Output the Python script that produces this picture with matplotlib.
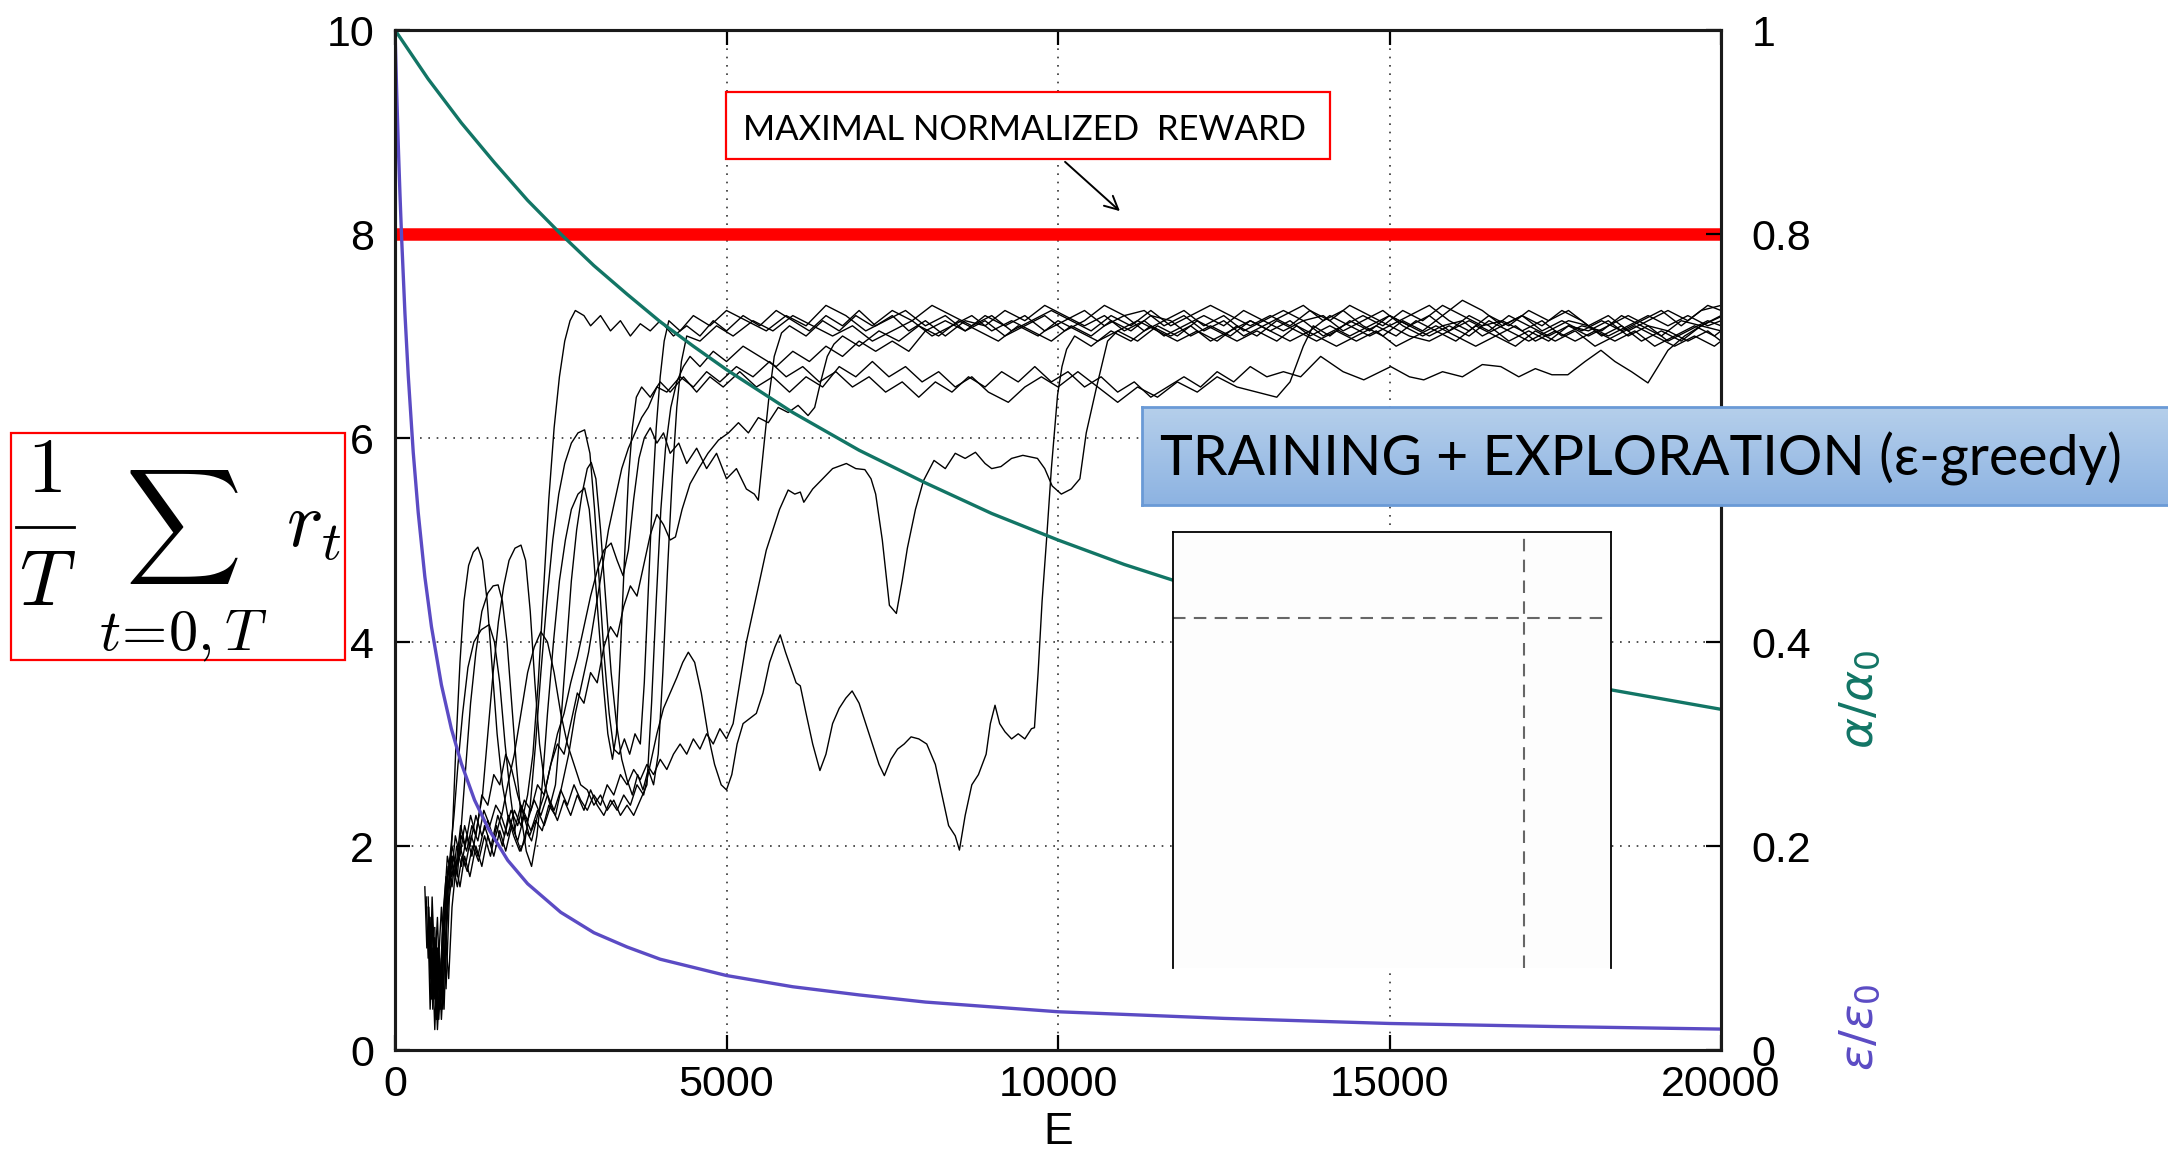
import matplotlib
matplotlib.use("Agg")
import matplotlib.pyplot as plt
import numpy as np
from matplotlib.lines import Line2D
from matplotlib.patches import FancyArrowPatch, Rectangle

W, H = 2168, 1151

TEAL = "#127565"
PURPLE = "#5b4bc4"

# axes ticks
X_TICKS = [0, 5000, 10000, 15000, 20000]
Y_TICKS = [0, 2, 4, 6, 8, 10]
Y2_TICKS = [0, 0.2, 0.4, 0.6, 0.8, 1.0]
Y2_LABELS = ["0", "0.2", "0.4", "", "0.8", "1"]   # 0.6 sits under the banner

MAX_REWARD = 8.0

# learning rate schedule alpha/alpha0 vs episode
ALPHA_E = [0, 500, 1000, 1500, 2000, 2500, 3000, 3500, 4000, 4500, 5000, 6000, 7000,
           8000, 9000, 10000, 11000, 12000, 14000, 16000, 18000, 20000]
ALPHA_RATIO = [1.0, 0.952, 0.909, 0.87, 0.833, 0.8, 0.769, 0.741, 0.714, 0.69, 0.667,
               0.625, 0.588, 0.556, 0.526, 0.5, 0.476, 0.455, 0.417, 0.385, 0.357, 0.334]

# exploration schedule eps/eps0 vs episode
EPS_E = [0, 25, 50, 75, 100, 150, 200, 275, 350, 450, 550, 700, 850, 1000, 1200, 1400,
         1700, 2000, 2500, 3000, 3500, 4000, 5000, 6000, 7000, 8000, 10000, 12500,
         15000, 17500, 20000]
EPS_RATIO = [1.0, 0.94, 0.886, 0.839, 0.796, 0.722, 0.661, 0.586, 0.527, 0.464, 0.415,
             0.358, 0.315, 0.281, 0.245, 0.218, 0.186, 0.163, 0.135, 0.115, 0.101, 0.089,
             0.073, 0.062, 0.054, 0.047, 0.0375, 0.031, 0.026, 0.023, 0.0205]

# normalized reward of ten training runs, (episode, reward)
RUN_A = [(470, 1.5), (500, 0.9), (530, 1.3), (560, 0.5), (590, 1.1), (630, 0.3), (660, 1.0),
         (700, 0.6), (740, 1.4), (790, 1.9), (850, 1.7), (910, 2.1), (980, 1.9), (1050, 2.2),
         (1130, 2.0), (1220, 2.3), (1310, 2.1), (1400, 2.25), (1500, 2.05), (1600, 2.3),
         (1700, 2.1), (1800, 2.35), (1900, 2.2), (2000, 2.5), (2080, 2.9), (2160, 3.6),
         (2240, 4.5), (2320, 5.4), (2400, 6.1), (2480, 6.6), (2560, 6.95), (2640, 7.15),
         (2720, 7.25), (2850, 7.2), (2950, 7.1), (3100, 7.2), (3250, 7.05), (3400, 7.15),
         (3550, 7.0), (3700, 7.12), (3850, 7.05), (4000, 7.15), (4200, 7.0), (4400, 7.1),
         (4600, 7.0), (4800, 7.15), (5000, 7.05), (5250, 7.2), (5500, 7.1), (5750, 7.25),
         (6000, 7.15), (6250, 7.05), (6500, 7.2), (6750, 7.1), (7000, 7.25), (7250, 7.1),
         (7500, 7.2), (7750, 7.05), (8000, 7.15), (8300, 7.0), (8600, 7.15), (8900, 7.1),
         (9200, 7.25), (9500, 7.15), (9800, 7.3), (10100, 7.2), (10400, 7.1), (10700, 7.2),
         (11000, 7.05), (11300, 7.15), (11600, 7.0), (11900, 7.1), (12200, 7.2), (12500, 7.1),
         (12800, 7.25), (13100, 7.15), (13400, 7.05), (13700, 7.15), (14000, 7.0), (14300, 7.1),
         (14600, 7.2), (14900, 7.1), (15200, 7.25), (15500, 7.15), (15800, 7.3), (16100, 7.2),
         (16400, 7.1), (16700, 7.15), (17000, 7.05), (17300, 7.15), (17600, 7.0), (17900, 7.1),
         (18200, 7.05), (18500, 7.2), (18800, 7.1), (19100, 7.0), (19400, 7.15), (19700, 7.1),
         (20000, 7.2)]

RUN_B = [(500, 1.2), (530, 0.4), (560, 1.0), (600, 0.2), (640, 0.9), (680, 0.4), (720, 1.3),
         (770, 1.7), (820, 1.6), (870, 2.2), (920, 3.0), (980, 3.8), (1040, 4.4), (1110, 4.75),
         (1180, 4.88), (1250, 4.93), (1320, 4.8), (1390, 4.4), (1460, 3.8), (1540, 3.1),
         (1620, 2.6), (1700, 2.3), (1790, 2.1), (1880, 1.95), (1960, 2.05), (2040, 2.4),
         (2120, 3.0), (2200, 3.7), (2290, 4.4), (2380, 5.0), (2470, 5.45), (2560, 5.75),
         (2660, 5.95), (2760, 6.05), (2860, 6.08), (2940, 5.85), (3010, 5.3), (3080, 4.6),
         (3150, 3.9), (3230, 3.3), (3300, 2.95), (3380, 2.9), (3460, 3.05), (3540, 2.9),
         (3620, 3.1), (3700, 3.0), (3760, 3.6), (3820, 4.5), (3880, 5.4), (3940, 6.1),
         (4000, 6.6), (4060, 6.95), (4130, 7.15), (4300, 7.05), (4500, 7.2), (4750, 7.1),
         (5000, 7.25), (5300, 7.15), (5600, 7.05), (5900, 7.2), (6200, 7.1), (6500, 7.3),
         (6800, 7.2), (7100, 7.05), (7400, 7.15), (7700, 7.25), (8000, 7.1), (8300, 7.2),
         (8600, 7.05), (8900, 7.15), (9200, 7.0), (9500, 7.1), (9800, 7.2), (10100, 7.05),
         (10400, 7.15), (10700, 7.3), (11000, 7.2), (11300, 7.25), (11600, 7.1), (11900, 7.2),
         (12200, 7.05), (12500, 7.15), (12800, 7.0), (13100, 7.1), (13400, 7.2), (13700, 7.3),
         (14000, 7.15), (14300, 7.25), (14600, 7.1), (14900, 7.0), (15200, 7.15), (15500, 7.05),
         (15800, 7.2), (16100, 7.35), (16400, 7.25), (16700, 7.1), (17000, 7.2), (17300, 7.1),
         (17600, 7.25), (17900, 7.15), (18200, 7.0), (18500, 7.1), (18800, 6.95), (19100, 7.05),
         (19400, 6.95), (19700, 7.1), (20000, 7.05)]

RUN_C = [(450, 1.6), (480, 1.0), (510, 1.4), (550, 0.6), (590, 1.1), (630, 0.3), (670, 0.9),
         (710, 0.5), (750, 1.3), (800, 1.8), (860, 1.6), (930, 2.0), (1000, 1.8), (1080, 2.1),
         (1160, 1.9), (1240, 2.2), (1320, 2.5), (1400, 3.1), (1480, 3.7), (1560, 4.2),
         (1640, 4.55), (1720, 4.8), (1810, 4.92), (1900, 4.95), (1970, 4.8), (2040, 4.3),
         (2110, 3.6), (2180, 3.0), (2260, 2.6), (2340, 2.4), (2420, 2.6), (2500, 3.2),
         (2580, 3.9), (2660, 4.6), (2740, 5.1), (2820, 5.45), (2900, 5.7), (2960, 5.76),
         (3030, 5.6), (3100, 5.1), (3180, 4.4), (3260, 3.7), (3340, 3.2), (3420, 2.85),
         (3500, 2.65), (3580, 2.5), (3660, 2.7), (3740, 2.55), (3820, 2.75), (3900, 2.6),
         (3970, 2.9), (4040, 3.7), (4110, 4.7), (4180, 5.6), (4250, 6.3), (4320, 6.75),
         (4400, 7.0), (4600, 6.95), (4850, 7.1), (5100, 7.0), (5400, 7.15), (5700, 7.05),
         (6000, 7.2), (6300, 7.1), (6600, 7.0), (6900, 7.1), (7200, 6.95), (7500, 7.05),
         (7800, 7.15), (8100, 7.0), (8400, 7.1), (8700, 7.2), (9000, 7.05), (9300, 7.15),
         (9600, 7.05), (9900, 6.95), (10200, 7.1), (10500, 7.0), (10800, 7.15), (11100, 7.05),
         (11400, 7.2), (11700, 7.15), (12000, 7.0), (12300, 7.1), (12600, 7.0), (12900, 7.15),
         (13200, 7.05), (13500, 6.95), (13800, 7.05), (14100, 7.2), (14400, 7.1), (14700, 7.0),
         (15000, 7.1), (15300, 7.0), (15600, 6.95), (15900, 7.05), (16200, 7.15), (16500, 7.05),
         (16800, 7.2), (17100, 7.1), (17400, 7.0), (17700, 7.1), (18000, 7.05), (18300, 7.15),
         (18600, 7.0), (18900, 7.1), (19200, 7.05), (19500, 6.95), (19800, 7.05), (20000, 6.95)]

RUN_D = [(560, 1.3), (590, 0.6), (620, 1.1), (660, 0.3), (700, 0.8), (740, 0.4), (780, 1.2),
         (830, 1.7), (880, 1.9), (940, 1.7), (1000, 2.2), (1070, 2.8), (1140, 3.4), (1220, 3.9),
         (1310, 4.3), (1400, 4.48), (1480, 4.55), (1555, 4.56), (1620, 4.4), (1690, 4.0),
         (1760, 3.4), (1830, 2.8), (1900, 2.3), (1980, 1.95), (2060, 1.8), (2140, 2.1),
         (2220, 2.6), (2300, 3.3), (2390, 4.0), (2480, 4.6), (2570, 5.0), (2660, 5.3),
         (2760, 5.45), (2860, 5.51), (2930, 5.3), (3000, 4.8), (3070, 4.2), (3140, 3.6),
         (3210, 3.1), (3280, 2.85), (3340, 3.1), (3400, 3.9), (3460, 4.8), (3520, 5.6),
         (3580, 6.1), (3640, 6.4), (3720, 6.5), (3850, 6.4), (4000, 6.55), (4150, 6.45),
         (4350, 6.6), (4550, 6.45), (4750, 6.6), (4950, 6.5), (5200, 6.65), (5450, 6.5),
         (5700, 6.6), (5950, 6.45), (6200, 6.6), (6450, 6.5), (6700, 6.7), (6950, 6.6),
         (7200, 6.75), (7450, 6.6), (7700, 6.7), (7950, 6.55), (8200, 6.65), (8450, 6.5),
         (8700, 6.6), (8950, 6.45), (9250, 6.35), (9500, 6.5), (9750, 6.6), (10000, 6.5),
         (10300, 6.65), (10600, 6.5), (10900, 6.35), (11200, 6.5), (11500, 6.4), (11800, 6.55),
         (12100, 6.45), (12400, 6.6), (12700, 6.5), (13000, 6.45), (13300, 6.4), (13500, 6.55),
         (13700, 6.9), (13850, 7.1), (14100, 7.0), (14400, 7.15), (14700, 7.05), (15000, 7.2),
         (15300, 7.1), (15600, 7.0), (15900, 7.1), (16200, 7.0), (16500, 7.15), (16800, 7.05),
         (17100, 6.95), (17400, 7.05), (17700, 7.15), (18000, 7.1), (18300, 7.0), (18600, 7.1),
         (18900, 7.2), (19200, 7.1), (19500, 7.2), (19800, 7.1), (20000, 7.15)]

RUN_E = [(500, 1.4), (530, 0.7), (560, 1.5), (600, 0.8), (640, 1.3), (680, 0.5), (720, 1.0),
         (770, 1.6), (830, 1.9), (890, 2.3), (950, 2.8), (1020, 3.3), (1100, 3.75), (1190, 4.0),
         (1300, 4.12), (1420, 4.17), (1500, 4.0), (1580, 3.6), (1660, 3.0), (1740, 2.5),
         (1820, 2.1), (1900, 1.95), (1980, 2.15), (2060, 2.05), (2150, 2.3), (2250, 2.5),
         (2350, 2.8), (2450, 3.1), (2550, 3.3), (2650, 3.6), (2750, 3.85), (2850, 4.15),
         (2950, 4.45), (3050, 4.7), (3150, 4.9), (3260, 4.97), (3350, 4.8), (3440, 4.65),
         (3520, 4.9), (3600, 5.4), (3680, 5.8), (3760, 6.0), (3850, 6.1), (3950, 5.95),
         (4050, 6.05), (4150, 5.85), (4280, 5.95), (4400, 5.75), (4550, 5.9), (4700, 5.7),
         (4850, 5.85), (5000, 5.6), (5150, 5.7), (5300, 5.5), (5420, 5.45), (5480, 5.39),
         (5560, 5.9), (5640, 6.4), (5720, 6.8), (5830, 7.03), (5950, 7.1), (6200, 7.0),
         (6450, 7.15), (6700, 7.05), (6950, 7.2), (7200, 7.1), (7500, 7.25), (7800, 7.15),
         (8100, 7.3), (8400, 7.2), (8700, 7.1), (9000, 7.2), (9300, 7.05), (9600, 7.15),
         (9900, 7.25), (10200, 7.15), (10500, 7.05), (10800, 7.2), (11100, 7.1), (11400, 7.25),
         (11700, 7.1), (12000, 7.2), (12300, 7.3), (12600, 7.2), (12900, 7.1), (13200, 7.2),
         (13500, 7.1), (13800, 7.25), (14100, 7.15), (14400, 7.3), (14700, 7.2), (15000, 7.1),
         (15300, 7.2), (15600, 7.3), (15900, 7.15), (16200, 7.05), (16500, 7.2), (16800, 7.1),
         (17100, 7.25), (17400, 7.15), (17700, 7.25), (18000, 7.1), (18300, 7.2), (18600, 7.05),
         (18900, 7.15), (19200, 7.25), (19500, 7.15), (19800, 7.3), (20000, 7.25)]

RUN_F = [(600, 1.2), (630, 0.5), (660, 0.9), (700, 0.3), (740, 0.8), (790, 1.5), (850, 1.9),
         (910, 1.7), (980, 2.0), (1060, 1.8), (1150, 2.1), (1250, 1.9), (1350, 2.2), (1450, 2.0),
         (1550, 2.3), (1650, 2.1), (1750, 2.35), (1850, 2.2), (1950, 2.45), (2050, 2.35),
         (2150, 2.6), (2250, 2.5), (2350, 2.8), (2450, 3.0), (2550, 2.9), (2650, 3.2),
         (2750, 3.5), (2850, 3.4), (2950, 3.7), (3050, 3.6), (3150, 3.95), (3250, 4.15),
         (3350, 4.05), (3450, 4.35), (3550, 4.55), (3650, 4.45), (3750, 4.75), (3850, 5.05),
         (3950, 5.25), (4050, 5.15), (4150, 5.0), (4230, 5.03), (4330, 5.3), (4450, 5.55),
         (4580, 5.7), (4720, 5.85), (4880, 5.98), (5030, 6.05), (5180, 6.15), (5330, 6.05),
         (5480, 6.2), (5630, 6.15), (5780, 6.3), (5930, 6.25), (6080, 6.32), (6230, 6.22),
         (6330, 6.3), (6420, 6.55), (6520, 6.8), (6620, 6.92), (6750, 7.0), (7000, 6.9),
         (7300, 7.05), (7600, 6.95), (7900, 7.1), (8200, 7.0), (8500, 7.15), (8800, 7.05),
         (9100, 6.95), (9400, 7.1), (9700, 7.0), (10000, 7.15), (10300, 7.05), (10600, 6.95),
         (10900, 7.05), (11200, 7.15), (11500, 7.05), (11800, 6.95), (12100, 7.05), (12400, 6.95),
         (12700, 7.1), (13000, 7.0), (13300, 7.15), (13600, 7.05), (13900, 6.95), (14200, 7.05),
         (14500, 6.95), (14800, 7.05), (15100, 6.9), (15400, 7.0), (15700, 7.1), (16000, 7.0),
         (16300, 6.9), (16600, 7.0), (16900, 6.9), (17200, 7.05), (17500, 6.95), (17800, 7.05),
         (18100, 6.9), (18400, 7.0), (18700, 7.1), (19000, 7.0), (19300, 6.9), (19600, 7.0),
         (19900, 6.9), (20000, 6.95)]

RUN_G = [(540, 1.1), (570, 0.4), (600, 0.9), (640, 0.2), (680, 0.7), (720, 1.2), (770, 0.6),
         (820, 1.5), (880, 1.8), (940, 1.6), (1010, 1.9), (1090, 1.75), (1170, 2.0), (1260, 1.85),
         (1350, 2.1), (1440, 1.9), (1530, 2.2), (1620, 2.0), (1710, 2.3), (1800, 2.15),
         (1900, 2.4), (2000, 2.25), (2100, 2.45), (2200, 2.3), (2300, 2.5), (2400, 2.35),
         (2500, 2.55), (2600, 2.4), (2700, 2.6), (2800, 2.45), (2900, 2.35), (3000, 2.5),
         (3100, 2.4), (3200, 2.6), (3300, 2.5), (3400, 2.7), (3500, 2.6), (3600, 2.75),
         (3700, 2.65), (3800, 2.8), (3900, 2.7), (4000, 2.85), (4100, 2.75), (4200, 2.9),
         (4300, 3.0), (4400, 2.9), (4500, 3.05), (4600, 2.95), (4700, 3.1), (4800, 3.0),
         (4900, 3.15), (5000, 3.05), (5100, 3.2), (5200, 3.6), (5300, 4.0), (5400, 4.3),
         (5500, 4.6), (5600, 4.9), (5700, 5.1), (5800, 5.3), (5930, 5.49), (6030, 5.45),
         (6113, 5.47), (6166, 5.37), (6300, 5.5), (6450, 5.6), (6600, 5.7), (6808, 5.75),
         (6950, 5.7), (7087, 5.69), (7180, 5.6), (7250, 5.45), (7350, 5.0), (7457, 4.36),
         (7562, 4.28), (7650, 4.6), (7728, 4.92), (7850, 5.3), (7970, 5.58), (8130, 5.78),
         (8300, 5.7), (8450, 5.85), (8600, 5.8), (8755, 5.86), (8900, 5.75), (9000, 5.7),
         (9140, 5.72), (9300, 5.8), (9470, 5.83), (9690, 5.8), (9800, 5.7), (9912, 5.53),
         (10050, 5.45), (10200, 5.5), (10330, 5.6), (10426, 6.05), (10582, 6.5), (10748, 6.95),
         (10900, 7.05), (11200, 6.95), (11500, 7.1), (11800, 7.0), (12100, 7.15), (12400, 7.05),
         (12700, 6.95), (13000, 7.05), (13300, 6.95), (13600, 7.1), (13900, 7.0), (14200, 6.9),
         (14500, 7.0), (14800, 7.1), (15100, 7.0), (15400, 7.15), (15700, 7.05), (16000, 6.95),
         (16300, 7.1), (16600, 7.0), (16900, 7.1), (17200, 6.95), (17500, 7.05), (17800, 6.95),
         (18100, 7.05), (18400, 6.95), (18700, 7.05), (19000, 6.9), (19300, 7.0), (19600, 7.1),
         (19900, 7.0), (20000, 7.05)]

RUN_H = [(620, 1.0), (650, 0.3), (680, 0.8), (720, 0.4), (760, 1.1), (810, 0.7), (860, 1.4),
         (920, 1.8), (980, 1.6), (1050, 1.9), (1130, 1.7), (1220, 2.0), (1310, 1.8), (1400, 2.1),
         (1490, 1.9), (1580, 2.15), (1670, 1.95), (1760, 2.2), (1850, 2.05), (1950, 2.3),
         (2050, 2.15), (2150, 2.35), (2250, 2.2), (2350, 2.4), (2450, 2.25), (2550, 2.45),
         (2650, 2.3), (2750, 2.5), (2850, 2.35), (2950, 2.55), (3050, 2.4), (3150, 2.3),
         (3250, 2.45), (3350, 2.35), (3450, 2.5), (3550, 2.4), (3650, 2.6), (3750, 2.5),
         (3850, 2.8), (3950, 3.1), (4050, 3.35), (4150, 3.5), (4250, 3.65), (4340, 3.8),
         (4424, 3.9), (4520, 3.8), (4620, 3.5), (4720, 3.1), (4820, 2.8), (4920, 2.6),
         (5000, 2.55), (5080, 2.7), (5160, 3.0), (5250, 3.2), (5350, 3.25), (5450, 3.3),
         (5550, 3.5), (5650, 3.8), (5730, 3.95), (5810, 4.07), (5890, 3.9), (5970, 3.75),
         (6050, 3.6), (6113, 3.57), (6200, 3.3), (6300, 3.0), (6409, 2.74), (6500, 2.9),
         (6600, 3.2), (6700, 3.35), (6800, 3.45), (6895, 3.52), (7000, 3.4), (7100, 3.2),
         (7200, 3.0), (7300, 2.8), (7381, 2.69), (7480, 2.85), (7580, 2.95), (7680, 3.0),
         (7784, 3.07), (7900, 3.05), (8020, 3.0), (8150, 2.8), (8250, 2.5), (8350, 2.2),
         (8450, 2.1), (8513, 1.96), (8600, 2.3), (8700, 2.6), (8800, 2.7), (8916, 2.9),
         (8980, 3.2), (9050, 3.38), (9120, 3.2), (9200, 3.12), (9300, 3.05), (9400, 3.1),
         (9500, 3.05), (9600, 3.15), (9645, 3.16), (9700, 3.7), (9760, 4.4), (9827, 5.0),
         (9900, 5.7), (9993, 6.42), (10060, 6.7), (10130, 6.87), (10250, 7.0), (10500, 6.9),
         (10800, 7.05), (11100, 6.95), (11400, 7.1), (11700, 7.0), (12000, 7.1), (12300, 6.95),
         (12600, 7.05), (12900, 7.15), (13200, 7.05), (13500, 7.15), (13800, 7.0), (14100, 7.1),
         (14400, 7.0), (14700, 7.1), (15000, 7.2), (15300, 7.1), (15600, 7.2), (15900, 7.05),
         (16200, 7.2), (16500, 7.1), (16800, 6.95), (17100, 7.05), (17400, 6.95), (17700, 7.1),
         (18000, 7.0), (18300, 7.1), (18600, 7.2), (18900, 7.1), (19200, 6.95), (19500, 7.05),
         (19800, 7.15), (20000, 7.1)]

RUN_I = [(500, 1.5), (530, 0.8), (560, 1.3), (600, 0.5), (640, 1.0), (690, 0.4), (740, 1.1),
         (800, 1.7), (860, 2.0), (920, 1.8), (990, 2.2), (1060, 2.0), (1140, 2.3), (1220, 2.1),
         (1310, 2.5), (1400, 2.4), (1490, 2.7), (1580, 2.6), (1670, 2.9), (1760, 2.75),
         (1850, 2.5), (1940, 2.3), (2030, 2.1), (2120, 2.25), (2220, 2.15), (2320, 2.4),
         (2420, 2.3), (2520, 2.6), (2620, 2.9), (2720, 3.3), (2820, 3.6), (2920, 3.9),
         (3020, 4.3), (3120, 4.7), (3220, 5.1), (3320, 5.4), (3420, 5.7), (3520, 5.9),
         (3620, 6.05), (3720, 6.2), (3820, 6.3), (3950, 6.5), (4100, 6.45), (4300, 6.6),
         (4500, 6.5), (4700, 6.65), (4900, 6.55), (5150, 6.7), (5400, 6.6), (5650, 6.75),
         (5900, 6.6), (6150, 6.7), (6400, 6.55), (6650, 6.65), (6900, 6.5), (7150, 6.6),
         (7400, 6.45), (7650, 6.55), (7900, 6.4), (8150, 6.55), (8400, 6.45), (8650, 6.6),
         (8900, 6.5), (9150, 6.65), (9400, 6.55), (9650, 6.7), (9900, 6.55), (10150, 6.65),
         (10400, 6.5), (10650, 6.6), (10900, 6.45), (11150, 6.55), (11400, 6.4), (11650, 6.5),
         (11900, 6.6), (12150, 6.5), (12400, 6.65), (12650, 6.55), (12900, 6.7), (13150, 6.6),
         (13400, 6.65), (13660, 6.6), (13962, 6.8), (14300, 6.65), (14612, 6.57), (15019, 6.7),
         (15300, 6.6), (15517, 6.57), (15800, 6.65), (16100, 6.6), (16400, 6.72), (16679, 6.7),
         (16950, 6.6), (17200, 6.68), (17450, 6.62), (17690, 6.62), (17950, 6.75), (18189, 6.86),
         (18400, 6.75), (18650, 6.65), (18898, 6.54), (19050, 6.7), (19200, 6.86), (19450, 7.0),
         (19700, 7.1), (20000, 7.19)]

RUN_J = [(520, 1.3), (550, 0.5), (580, 1.0), (620, 0.3), (660, 0.9), (700, 1.4), (750, 0.8),
         (800, 1.6), (860, 1.9), (930, 1.8), (1000, 2.1), (1080, 1.95), (1160, 2.2), (1250, 2.05),
         (1340, 2.35), (1430, 2.2), (1520, 2.4), (1610, 2.3), (1700, 2.6), (1800, 2.9),
         (1900, 3.3), (2000, 3.7), (2100, 3.95), (2200, 4.1), (2300, 4.0), (2400, 3.7),
         (2500, 3.3), (2600, 3.0), (2700, 2.8), (2800, 2.6), (2900, 2.55), (3000, 2.4),
         (3100, 2.5), (3200, 2.35), (3300, 2.45), (3400, 2.3), (3500, 2.4), (3600, 2.3),
         (3700, 2.45), (3800, 2.6), (3870, 3.4), (3940, 4.4), (4010, 5.3), (4080, 5.9),
         (4160, 6.3), (4250, 6.55), (4350, 6.7), (4450, 6.8), (4600, 6.7), (4800, 6.85),
         (5000, 6.75), (5250, 6.9), (5500, 6.8), (5750, 6.7), (6000, 6.85), (6250, 6.75),
         (6500, 6.9), (6750, 6.8), (7000, 6.95), (7250, 6.85), (7500, 6.95), (7750, 6.85),
         (8000, 7.05), (8300, 7.15), (8600, 7.05), (8900, 7.2), (9200, 7.1), (9500, 7.2),
         (9800, 7.05), (10100, 7.15), (10400, 7.25), (10700, 7.1), (11000, 7.2), (11300, 7.05),
         (11600, 7.15), (11900, 7.25), (12200, 7.1), (12500, 7.2), (12800, 7.05), (13100, 7.15),
         (13400, 7.25), (13700, 7.15), (14000, 7.2), (14300, 7.05), (14600, 7.15), (14900, 7.25),
         (15200, 7.1), (15500, 7.0), (15800, 7.1), (16100, 7.15), (16400, 7.0), (16700, 7.1),
         (17000, 7.2), (17300, 7.05), (17600, 7.15), (17900, 7.05), (18200, 7.15), (18500, 7.05),
         (18800, 7.15), (19100, 7.25), (19400, 7.1), (19700, 7.25), (20000, 7.3)]

RUNS = [RUN_A, RUN_B, RUN_C, RUN_D, RUN_E, RUN_F, RUN_G, RUN_H, RUN_I, RUN_J]


def fxy(x, y):
    """pixel position -> figure fraction"""
    return x / W, 1 - y / H


def add_formula(fig):
    x0, y0 = fxy(11, 660)
    fig.add_artist(Rectangle((x0, y0), 334 / W, 227 / H, transform=fig.transFigure,
                             facecolor="white", edgecolor="#ff0000", lw=1.6))
    kw = dict(math_fontfamily="cm", ha="center", color="black")
    fig.text(*fxy(44, 492), r"$1$", va="baseline", fontsize=56, **kw)
    fig.add_artist(Line2D([16 / W, 74 / W], [1 - 527 / H] * 2, transform=fig.transFigure,
                          color="black", lw=2))
    fig.text(*fxy(47, 605), r"$T$", va="baseline", fontsize=56, **kw)
    fig.text(*fxy(182, 527), r"$\sum$", va="center", fontsize=58, **kw)
    fig.text(*fxy(183, 650), r"$t\!=\!0,T$", va="baseline", fontsize=42, **kw)
    fig.text(*fxy(286, 547), r"$r_t$", math_fontfamily="cm", ha="left",
             va="baseline", fontsize=56)


def main() -> None:
    plt.rcParams["font.family"] = ["Liberation Sans", "DejaVu Sans"]
    fig = plt.figure(figsize=(W / 100, H / 100), dpi=100)
    ax = fig.add_axes([395 / W, 1 - 1050 / H, 1326 / W, 1020 / H])

    ax.set_xlim(0, 20000)
    ax.set_ylim(0, 10)
    ax.set_xticks(X_TICKS)
    ax.set_yticks(Y_TICKS)
    ax.grid(True, linestyle=(0, (1, 4)), color="#333333", lw=1.2)
    ax.tick_params(direction="in", length=11, width=1.6, labelsize=31, top=True, right=False)
    ax.tick_params(axis="y", pad=15)
    ax.tick_params(axis="x", pad=11)
    ax.set_xlabel("E", fontsize=32, labelpad=5)

    ax.axhline(MAX_REWARD, color="#ff0000", lw=9, zorder=3)
    for run in RUNS:
        ep, rew = zip(*run)
        ax.plot(ep, rew, color="black", lw=1.0, zorder=2)

    ax2 = ax.twinx()
    ax2.set_ylim(0, 1)
    ax2.set_yticks(Y2_TICKS)
    ax2.set_yticklabels(Y2_LABELS)
    ax2.tick_params(direction="in", length=11, width=1.6, labelsize=31, pad=22)
    ax2.plot(ALPHA_E, ALPHA_RATIO, color=TEAL, lw=2.4)
    ax2.plot(EPS_E, EPS_RATIO, color=PURPLE, lw=2.4)
    for a in (ax, ax2):
        for s in a.spines.values():
            s.set_linewidth(2.2)
            s.set_color("#1a1a1a")

    fig.text(*fxy(1860, 700), r"$\alpha/\alpha_0$", rotation=90, ha="center", va="center",
             color=TEAL, fontsize=34, math_fontfamily="dejavusans")
    fig.text(*fxy(1860, 1027), r"$\varepsilon/\varepsilon_0$", rotation=90, ha="center",
             va="center", color=PURPLE, fontsize=34, math_fontfamily="dejavusans")

    # callout for the reward ceiling
    bx, by = fxy(726, 159)
    fig.add_artist(Rectangle((bx, by), 604 / W, 67 / H, transform=fig.transFigure,
                             facecolor="white", edgecolor="#ff0000", lw=1.6))
    fig.text(*fxy(743, 140), "MAXIMAL NORMALIZED  REWARD", va="baseline", ha="left",
             fontsize=25, family=["Lato", "DejaVu Sans"])
    fig.add_artist(FancyArrowPatch(fxy(1063, 160), fxy(1122, 213), transform=fig.transFigure,
                                   arrowstyle="->", mutation_scale=24, lw=1.4, color="black"))

    # blank panel over the lower right of the plot
    inset = fig.add_axes([1173 / W, 1 - 968 / H, 438 / W, 436 / H])
    inset.set_facecolor("#fdfdfd")
    inset.set_xticks([])
    inset.set_yticks([])
    inset.spines["bottom"].set_visible(False)
    for side in ("top", "left", "right"):
        inset.spines[side].set_linewidth(1.3)
    inset.axhline(0.803, color="#666666", lw=1.5, ls=(0, (6, 4)))
    inset.axvline(0.801, color="#666666", lw=1.5, ls=(0, (6, 4)))

    # banner
    banner = fig.add_axes([1142 / W, 1 - 505 / H, 1100 / W, 98 / H])
    grad = np.linspace(0, 1, 64).reshape(-1, 1)
    banner.imshow(grad, aspect="auto", extent=(0, 1, 0, 1),
                  cmap=matplotlib.colors.LinearSegmentedColormap.from_list(
                      "banner", ["#b5cfeb", "#8db3e2"]))
    banner.set_xticks([])
    banner.set_yticks([])
    for s in banner.spines.values():
        s.set_color("#6a9ad6")
        s.set_linewidth(2)
    fig.text(*fxy(1160, 475), "TRAINING + EXPLORATION (ε-greedy)", va="baseline",
             ha="left", fontsize=40, family=["Lato", "DejaVu Sans"])

    add_formula(fig)

    fig.savefig("out.png", dpi=100)
    plt.close(fig)


if __name__ == "__main__":
    main()
